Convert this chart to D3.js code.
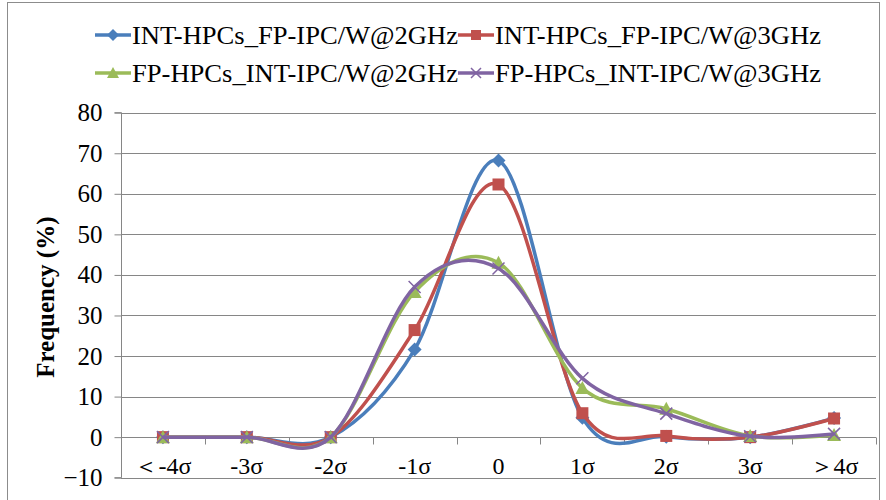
<!DOCTYPE html>
<html>
<head>
<meta charset="utf-8">
<script src="https://cdn.jsdelivr.net/npm/d3@7"></script>
<style>
  html, body { margin: 0; padding: 0; background: #fff; }
  svg { display: block; }
  svg text { font-family: "Liberation Serif", "Times New Roman", serif; }
</style>
</head>
<body>
<svg id="chart" width="886" height="500"></svg>
<script>
// Deviation buckets along the x axis
const categories = ["＜-4σ", "-3σ", "-2σ", "-1σ", "0", "1σ", "2σ", "3σ", "＞4σ"];

// Frequency (%) per bucket for each series
const intFp2GHz = [0, 0, 0, 21.6, 68.2, 4.8, 0.1, 0.0, 4.7];
const intFp3GHz = [0, 0, 0, 26.4, 62.3, 5.9, 0.3, 0.0, 4.6];
const fpInt2GHz = [0, 0, 0, 35.8, 43.0, 12.1, 7.0, 0.3, 0.5];
const fpInt3GHz = [0, 0, 0, 37.0, 41.6, 14.5, 5.8, 0.2, 0.8];

const seriesNames = [
  "INT-HPCs_FP-IPC/W@2GHz",
  "INT-HPCs_FP-IPC/W@3GHz",
  "FP-HPCs_INT-IPC/W@2GHz",
  "FP-HPCs_INT-IPC/W@3GHz"
];
const yTicks = [-10, 0, 10, 20, 30, 40, 50, 60, 70, 80];

const series = [
  { name: seriesNames[0], values: intFp2GHz, color: "#4a7ebb", marker: "diamond" },
  { name: seriesNames[1], values: intFp3GHz, color: "#c0504d", marker: "square" },
  { name: seriesNames[2], values: fpInt2GHz, color: "#9bbb59", marker: "triangle" },
  { name: seriesNames[3], values: fpInt3GHz, color: "#8064a2", marker: "cross" }
];

const FONT = "Liberation Serif, Times New Roman, serif";
const svg = d3.select("#chart");

// Outer chart frame
svg.append("rect")
  .attr("x", 7.5).attr("y", 2.5).attr("width", 872).attr("height", 500)
  .attr("fill", "none").attr("stroke", "#8c8c8c").attr("stroke-width", 1);

const plotLeft = 121, plotRight = 876, plotTop = 112.7, plotBottom = 477.7;

const x = d3.scaleBand().domain(categories).range([plotLeft, plotRight]);
const y = d3.scaleLinear().domain([-10, 80]).range([plotBottom, plotTop]);
const cx = c => x(c) + x.bandwidth() / 2;

// Horizontal gridlines
svg.append("g")
  .selectAll("line")
  .data(yTicks)
  .join("line")
  .attr("x1", plotLeft).attr("x2", plotRight)
  .attr("y1", d => Math.round(y(d)) + 0.5).attr("y2", d => Math.round(y(d)) + 0.5)
  .attr("stroke", "#868686").attr("stroke-width", 1);

// Value axis
const yAxis = svg.append("g")
  .attr("transform", `translate(${plotLeft + 0.5},0)`)
  .attr("font-family", FONT)
  .call(d3.axisLeft(y).tickValues(yTicks).tickSize(7).tickPadding(12).tickFormat(d3.format("d")));
yAxis.attr("font-family", FONT);
yAxis.select(".domain").attr("stroke", "#868686").attr("d", `M-7,${y(80)}H0V${y(-10)}H-7`);
yAxis.selectAll(".tick line").attr("stroke", "#868686");
yAxis.selectAll(".tick text")
  .attr("font-family", FONT)
  .attr("font-size", 25).attr("fill", "#000");

// Category axis crossing at zero, labels placed at the bottom
const xAxis = svg.append("g")
  .attr("transform", `translate(0,${Math.round(y(0)) + 0.5})`);
xAxis.selectAll("line")
  .data(d3.range(categories.length + 1))
  .join("line")
  .attr("x1", i => Math.round(plotLeft + i * x.step()) + 0.5)
  .attr("x2", i => Math.round(plotLeft + i * x.step()) + 0.5)
  .attr("y1", 0).attr("y2", 7)
  .attr("stroke", "#868686");

svg.append("g")
  .selectAll("text")
  .data(categories)
  .join("text")
  .attr("x", d => cx(d))
  .attr("y", 474)
  .attr("text-anchor", "middle")
  .attr("font-family", FONT)
  .attr("font-size", 24)
  .attr("fill", "#000")
  .text(d => d);

// Axis title
svg.append("text")
  .attr("transform", `translate(54,${(plotTop + plotBottom) / 2 + 2}) rotate(-90)`)
  .attr("text-anchor", "middle")
  .attr("font-family", FONT)
  .attr("font-size", 25)
  .attr("font-weight", "bold")
  .attr("fill", "#000")
  .text("Frequency (%)");

// Smoothed series lines
const line = d3.line()
  .x((d, i) => cx(categories[i]))
  .y(d => y(d))
  .curve(d3.curveCatmullRom.alpha(0));

function drawMarker(g, type, color, size) {
  const s = size / 2;
  if (type === "diamond") {
    g.append("path").attr("d", `M0,${-s - 1}L${s + 1},0L0,${s + 1}L${-s - 1},0Z`).attr("fill", color);
  } else if (type === "square") {
    g.append("rect").attr("x", -s).attr("y", -s).attr("width", size).attr("height", size).attr("fill", color);
  } else if (type === "triangle") {
    g.append("path").attr("d", `M0,${-s - 1}L${s + 1},${s}L${-s - 1},${s}Z`).attr("fill", color);
  } else if (type === "cross") {
    g.append("path").attr("d", `M${-s},${-s}L${s},${s}M${-s},${s}L${s},${-s}`)
      .attr("stroke", color).attr("stroke-width", 1.5).attr("fill", "none");
  }
}

const plotG = svg.append("g");
series.forEach(s => {
  const g = plotG.append("g");
  g.append("path")
    .attr("d", line(s.values))
    .attr("fill", "none")
    .attr("stroke", s.color)
    .attr("stroke-width", 3.5)
    .attr("stroke-linejoin", "round");
  s.values.forEach((v, i) => {
    const m = g.append("g").attr("transform", `translate(${cx(categories[i])},${y(v)})`);
    drawMarker(m, s.marker, s.color, 12);
  });
});

// Legend, two rows of two entries
const legendPos = [
  { lx: 95, ly: 35 }, { lx: 458, ly: 35 },
  { lx: 95, ly: 73 }, { lx: 458, ly: 73 }
];
series.forEach((s, i) => {
  const p = legendPos[i];
  const g = svg.append("g").attr("transform", `translate(${p.lx},${p.ly})`);
  g.append("line").attr("x1", 0).attr("x2", 36).attr("y1", 0).attr("y2", 0)
    .attr("stroke", s.color).attr("stroke-width", 3.5);
  const m = g.append("g").attr("transform", "translate(18,0)");
  drawMarker(m, s.marker, s.color, 10);
  g.append("text")
    .attr("x", 37).attr("y", 9)
    .attr("font-family", FONT)
    .attr("font-size", 26)
    .attr("textLength", 326)
    .attr("lengthAdjust", "spacingAndGlyphs")
    .attr("fill", "#000")
    .text(s.name);
});
</script>
</body>
</html>
